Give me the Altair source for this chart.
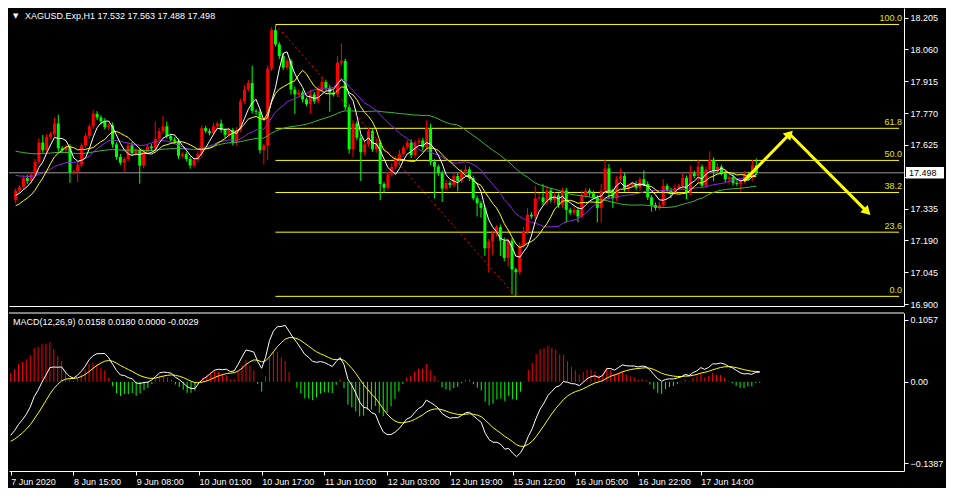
import json
import altair as alt
import pandas as pd

# ---------------- data ----------------
closes = [
    17.417, 17.434, 17.474, 17.461, 17.491, 17.548, 17.636, 17.601, 17.662, 17.675,
    17.723, 17.610, 17.601, 17.614, 17.500, 17.504, 17.535, 17.623, 17.666, 17.710,
    17.767, 17.750, 17.732, 17.706, 17.715, 17.627, 17.570, 17.544, 17.561, 17.623,
    17.588, 17.601, 17.531, 17.592, 17.618, 17.610, 17.653, 17.688, 17.710, 17.666,
    17.649, 17.640, 17.575, 17.583, 17.561, 17.531, 17.557, 17.583, 17.702, 17.688,
    17.680, 17.710, 17.723, 17.693, 17.671, 17.693, 17.636, 17.693, 17.824, 17.877,
    17.907, 17.780, 17.776, 17.601, 17.623, 17.973, 18.148, 18.083, 18.030, 17.977,
    18.008, 17.877, 17.855, 17.864, 17.833, 17.811, 17.855, 17.824, 17.877, 17.912,
    17.885, 17.864, 17.855, 18.000, 18.008, 17.798, 17.605, 17.723, 17.658, 17.592,
    17.627, 17.688, 17.605, 17.636, 17.447, 17.430, 17.491, 17.526, 17.561,
    17.583, 17.614, 17.636, 17.579, 17.636, 17.645, 17.614, 17.702, 17.548, 17.526,
    17.496, 17.426, 17.452, 17.443, 17.483, 17.461, 17.504, 17.513, 17.474, 17.382,
    17.360, 17.338, 17.154, 17.185, 17.220, 17.250, 17.189, 17.110, 17.189, 17.058,
    17.045, 17.167, 17.233, 17.307, 17.299, 17.382, 17.386, 17.364, 17.417, 17.373,
    17.395, 17.351, 17.417, 17.329, 17.316, 17.329, 17.299, 17.395, 17.417,
    17.404, 17.386, 17.338, 17.417, 17.518, 17.417, 17.382, 17.469, 17.483, 17.426,
    17.439, 17.447, 17.430, 17.469, 17.447, 17.386, 17.351, 17.338, 17.351, 17.439,
    17.417, 17.408, 17.430, 17.439, 17.474, 17.408, 17.496, 17.483, 17.526, 17.439,
    17.513, 17.557, 17.504, 17.526, 17.496, 17.469, 17.478, 17.452, 17.447, 17.461,
    17.491, 17.474, 17.532, 17.498,
]
first_open = 17.373

# wick lengths beyond the body, in thousandths of a dollar
up_wick = [
    10, 8, 12, 15, 9, 14, 20, 35, 12, 10,
    26, 40, 10, 12, 15, 8, 12, 10, 14, 9,
    18, 12, 10, 15, 8, 12, 10, 14, 9, 12,
    15, 10, 12, 14, 10, 12, 79, 15, 48, 22,
    10, 12, 14, 9, 10, 12, 8, 15, 12, 10,
    12, 15, 10, 18, 8, 12, 10, 14, 12, 20,
    14, 79, 10, 12, 8, 15, 14, 26, 10, 15,
    12, 10, 14, 12, 10, 8, 20, 12, 15, 25,
    10, 14, 12, 30, 79, 10, 12, 15, 10, 14,
    12, 15, 10, 18, 12, 10, 12, 15, 14, 20,
    10, 12, 15, 10, 14, 12, 35, 20, 12, 10,
    12, 14, 10, 12, 15, 10, 20, 12, 10, 12,
    10, 14, 12, 15, 10, 12, 14, 10, 12, 8,
    15, 18, 30, 12, 57, 20, 60, 22, 12, 15,
    10, 14, 12, 10, 15, 12, 22, 14, 10, 12,
    10, 30, 39, 20, 10, 14, 35, 15, 10, 12,
    14, 10, 40, 12, 10, 12, 14, 30, 10, 12,
    15, 10, 20, 12, 35, 12, 31, 10, 14, 39,
    12, 15, 10, 12, 10, 14, 12, 10, 15, 12,
    25, 31,
]
down_wick = [
    15, 12, 10, 14, 12, 10, 9, 12, 14, 10,
    12, 15, 10, 12, 48, 10, 48, 12, 10, 14,
    10, 12, 14, 10, 12, 15, 12, 10, 39, 12,
    10, 14, 83, 12, 10, 15, 12, 10, 14, 12,
    10, 12, 13, 10, 12, 14, 10, 12, 15, 10,
    12, 10, 14, 12, 15, 10, 12, 14, 10, 12,
    10, 12, 14, 15, 66, 66, 12, 10, 14, 12,
    10, 22, 88, 12, 14, 10, 44, 12, 10, 14,
    12, 88, 10, 12, 14, 15, 20, 35, 12, 131,
    14, 10, 12, 15, 74, 22, 12, 10, 14, 30,
    12, 10, 14, 12, 10, 15, 12, 14, 145, 12,
    61, 10, 14, 12, 48, 10, 12, 14, 10, 61,
    44, 35, 110, 60, 12, 70, 14, 40, 114, 110,
    12, 10, 14, 10, 12, 10, 14, 12, 10, 15,
    12, 14, 57, 10, 12, 26, 10, 12, 14, 10,
    66, 66, 12, 40, 44, 12, 10, 14, 12, 10,
    12, 14, 10, 12, 30, 12, 10, 14, 12, 26,
    10, 12, 14, 30, 12, 10, 30, 12, 10, 14,
    44, 12, 10, 14, 25, 12, 10, 35, 12, 10,
    12, 10,
]

tick_idx = [0, 16, 32, 48, 64, 80, 96, 112, 128, 144, 160, 176]
tick_labels = ["7 Jun 2020", "8 Jun 15:00", "9 Jun 08:00", "10 Jun 01:00",
               "10 Jun 17:00", "11 Jun 10:00", "12 Jun 03:00", "12 Jun 19:00",
               "15 Jun 12:00", "16 Jun 05:00", "16 Jun 22:00", "17 Jun 14:00"]
price_ticks = [16.900, 17.045, 17.190, 17.335, 17.480, 17.625, 17.770, 17.915, 18.060, 18.205]
macd_ticks = [-0.1387, 0.0, 0.1057]

# moving averages (period, value of the line at the left edge, colour)
ma_periods = [50, 20, 10, 5]
ma_seeds = [17.60, 17.49, 17.34, 17.39]
ma_colors = ["#3DB83D", "#8A2BE2", "#FFFF00", "#FFFFFF"]

fib_high, fib_low = 18.174, 16.935
fib_start_idx, fib_low_idx = 67, 129
fib_levels = [0.0, 23.6, 38.2, 50.0, 61.8, 100.0]

last_price = 17.498
header = "XAGUSD.Exp,H1  17.532 17.563 17.488 17.498"
macd_header = "MACD(12,26,9) 0.0158 0.0180 0.0000 -0.0029"
macd_start_dif, macd_start_dea = -0.091, -0.101
hist_factor = 1.5

arrow_seg = [1, 1, 2, 2]
arrow_i = [187.8, 199.6, 199.6, 219.6]
arrow_p = [17.461, 17.675, 17.675, 17.320]
head_i = [199.6, 219.6]
head_p = [17.675, 17.320]
head_angle = [44, 135]

# ---------------- derived tables ----------------
n = len(closes)
opens = [first_open] + closes[:-1]
rows = []
for k in range(n):
    o, c = opens[k], closes[k]
    rows.append({
        "i": k, "open": o, "close": c,
        "high": max(o, c) + up_wick[k] / 1000.0,
        "low": min(o, c) - down_wick[k] / 1000.0,
        "dir": "up" if c >= o else "down",
    })
df = pd.DataFrame(rows)

for p, s in zip(ma_periods, ma_seeds):
    ser = pd.Series([s] * (p - 1) + closes)
    df[f"ma{p}"] = ser.rolling(p).mean().iloc[p - 1:].reset_index(drop=True)

a12, a26, a9 = 2 / 13, 2 / 27, 2 / 10
e12 = closes[0]
e26 = closes[0] - macd_start_dif
dea = macd_start_dea
difs, deas = [macd_start_dif], [dea]
for c in closes[1:]:
    e12 += a12 * (c - e12)
    e26 += a26 * (c - e26)
    d = e12 - e26
    dea += a9 * (d - dea)
    difs.append(d)
    deas.append(dea)
df["dif"] = difs
df["dea"] = deas
df["hist"] = [hist_factor * (a - b) for a, b in zip(difs, deas)]
df["zero"] = 0.0
df["hsign"] = ["pos" if h >= 0 else "neg" for h in df["hist"]]

X_MAX = 227.8
fib_df = pd.DataFrame({
    "lvl": fib_levels,
    "price": [fib_low + l / 100.0 * (fib_high - fib_low) for l in fib_levels],
    "label": [f"{l:.1f}" for l in fib_levels],
    "xs": fib_start_idx, "xe": X_MAX,
})
trend_df = pd.DataFrame({"i": [fib_start_idx, fib_low_idx], "p": [fib_high, fib_low]})
arrow_df = pd.DataFrame({"seg": arrow_seg, "i": arrow_i, "p": arrow_p})
head_df = pd.DataFrame({"i": head_i, "p": head_p, "ang": head_angle})
last_df = pd.DataFrame({"p": [last_price], "t": [f"{last_price:.3f}"]})

# ---------------- chart ----------------
W, H1, H2 = 895, 298, 158
FONT = "Liberation Sans"
FS = 9

xscale = alt.Scale(domain=[-0.425, X_MAX], nice=False, zero=False)
pscale = alt.Scale(domain=[16.891, 18.249], nice=False, zero=False)
mscale = alt.Scale(domain=[-0.1515, 0.1169], nice=False, zero=False)

x_top_axis = alt.Axis(labels=False, ticks=False, domain=True, domainColor="white",
                      title=None, grid=False)
# the 17.480 label sits under the current-price box in the reference
p_axis = alt.Axis(orient="right", values=price_ticks, title=None, grid=False,
                  labelExpr=f"abs(datum.value - {last_price}) < 0.03 ? '' : format(datum.value, '.3f')",
                  labelOverlap=False, labelSeparation=0, labelColor="white", labelFont=FONT,
                  labelFontSize=FS, tickColor="white", tickSize=4, domainColor="white",
                  labelPadding=2)
label_expr = json.dumps(tick_labels) + "[round(datum.value / 16)]"
x_bot_axis = alt.Axis(values=tick_idx, labelExpr=label_expr, labelAlign="left",
                      labelFlush=False, labelOverlap=False, title=None, grid=False,
                      labelColor="white", labelFont=FONT, labelFontSize=FS,
                      tickColor="white", tickSize=4, domainColor="white", labelPadding=2)
m_axis = alt.Axis(orient="right", values=macd_ticks, title=None, grid=False,
                  labelExpr="datum.value == 0 ? '0.00' : format(datum.value, '.4f')",
                  labelOverlap=False, labelColor="white", labelFont=FONT, labelFontSize=FS,
                  tickColor="white", tickSize=4, domainColor="white", labelPadding=2)


def PX(field="i"):
    return alt.X(f"{field}:Q", scale=xscale, axis=x_top_axis)


def PY(field):
    return alt.Y(f"{field}:Q", scale=pscale, axis=p_axis)


candle_color = alt.Color("dir:N", scale=alt.Scale(domain=["up", "down"],
                                                  range=["#FF0000", "#00FF00"]), legend=None)
base = alt.Chart(df)

fib_lines = alt.Chart(fib_df).mark_rule(color="#FFFF00", strokeWidth=1).encode(
    x=PX("xs"), x2="xe:Q", y=PY("price"))
fib_text = alt.Chart(fib_df).mark_text(color="#E6E600", font=FONT, fontSize=FS, align="right",
                                       baseline="bottom", dy=-1).encode(
    x=alt.value(W - 2), y=PY("price"), text="label:N")
last_line = alt.Chart(last_df).mark_rule(color="#9A9A9A", strokeWidth=1).encode(y=PY("p"))
wicks = base.mark_rule(strokeWidth=1).encode(
    x=PX(), y=PY("low"), y2="high:Q", color=candle_color)
bodies = base.mark_bar(size=3).encode(
    x=PX(), y=PY("open"), y2="close:Q", color=candle_color)
ma_layers = [base.mark_line(color=col, strokeWidth=1).encode(x=PX(), y=PY(f"ma{p}"))
             for p, col in zip(ma_periods, ma_colors)]
trend = alt.Chart(trend_df).mark_line(color="#FF0000", strokeWidth=1, strokeDash=[2, 3]).encode(
    x=PX(), y=PY("p"))
arrows = alt.Chart(arrow_df).mark_line(color="#FFFF00", strokeWidth=3).encode(
    x=PX(), y=PY("p"), detail="seg:N")
heads = alt.Chart(head_df).mark_point(shape="triangle-up", filled=True, size=110,
                                      color="#FFFF00", opacity=1).encode(
    x=PX(), y=PY("p"), angle=alt.Angle("ang:Q", scale=None))
price_box = alt.Chart(last_df).mark_point(
    shape="M-1,-0.3L1,-0.3L1,0.3L-1,0.3Z", size=1444, filled=True, color="white",
    opacity=1).encode(x=alt.value(W + 21), y=PY("p"))
price_box_txt = alt.Chart(last_df).mark_text(color="black", font=FONT, fontSize=FS,
                                             align="left", baseline="middle").encode(
    x=alt.value(W + 5), y=PY("p"), text="t:N")
hdr = alt.Chart(pd.DataFrame({"t": [header]})).mark_text(
    color="white", font=FONT, fontSize=FS, align="left", baseline="middle").encode(
    x=alt.value(16), y=alt.value(8), text="t:N")
hdr_tri = alt.Chart(pd.DataFrame({"t": ["\u25BC"]})).mark_text(
    color="white", font="DejaVu Sans", fontSize=7, align="left", baseline="middle").encode(
    x=alt.value(4), y=alt.value(8), text="t:N")

price_chart = alt.layer(
    fib_lines, fib_text, last_line, wicks, bodies, *ma_layers, trend, arrows,
    heads, price_box, price_box_txt, hdr_tri, hdr,
).properties(width=W, height=H1)


def MX(field="i"):
    return alt.X(f"{field}:Q", scale=xscale, axis=x_bot_axis)


def MY(field):
    return alt.Y(f"{field}:Q", scale=mscale, axis=m_axis)


hist = base.mark_rule(strokeWidth=1, clip=True).encode(
    x=MX(), y=MY("zero"), y2="hist:Q",
    color=alt.Color("hsign:N", scale=alt.Scale(domain=["pos", "neg"],
                                               range=["#E82020", "#1A7F1A"]), legend=None))
dif_line = base.mark_line(color="white", strokeWidth=1, clip=True).encode(x=MX(), y=MY("dif"))
dea_line = base.mark_line(color="#FFFF00", strokeWidth=1, clip=True).encode(x=MX(), y=MY("dea"))
top_border = alt.Chart(pd.DataFrame({"v": [mscale.domain[1]]})).mark_rule(
    color="white", strokeWidth=1).encode(y=MY("v"))
m_hdr = alt.Chart(pd.DataFrame({"t": [macd_header]})).mark_text(
    color="white", font=FONT, fontSize=FS, align="left", baseline="middle").encode(
    x=alt.value(4), y=alt.value(9), text="t:N")

macd_chart = alt.layer(hist, dea_line, dif_line, top_border, m_hdr).properties(
    width=W, height=H2)

chart = alt.vconcat(price_chart, macd_chart, spacing=2).properties(
    background="black", padding={"left": 0, "top": 0, "right": 2, "bottom": 2}
).configure_view(stroke=None).configure_axis(labelOverlap=False, labelSeparation=0)

chart.save("out.html", embed_options={"renderer": "svg", "actions": False})
